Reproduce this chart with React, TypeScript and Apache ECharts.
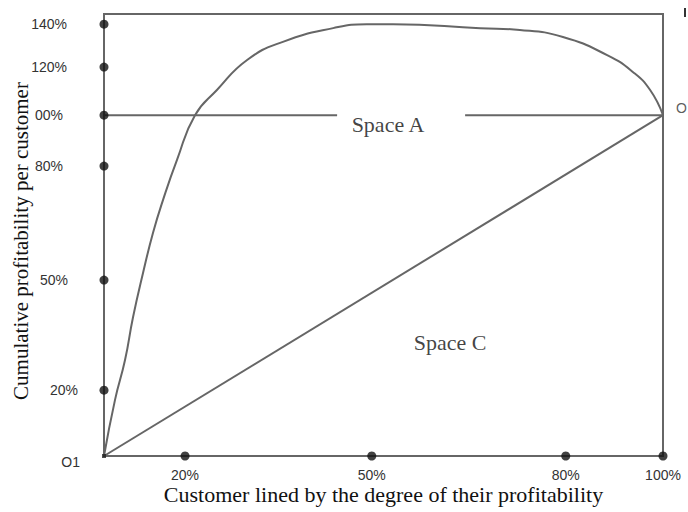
import React, { useEffect, useRef } from "react";
import * as echarts from "echarts";

// Positions are expressed on the drawn axes (0–100 of the axis length),
// since the original figure's tick spacing is not linear.
const xTickPos = [14.5, 47.9, 82.6, 100];
const xTickLabels = ["20%", "50%", "80%", "100%"];
const yTickPos = [0, 14.9, 39.8, 65.6, 77.1, 88.0, 97.7];
const yTickLabels = ["O1", "20%", "50%", "80%", "00%", "120%", "140%"];

const xTitle = "Customer lined by the degree of their profitability";
const yTitle = "Cumulative profitability per customer";

// Cumulative profitability curve
const curveX = [0, 1.97, 3.76, 5.19, 6.98, 8.77, 10.55, 13.06, 16.28, 20.2, 25.6, 32.0, 41.0, 47.0, 51.7, 67.3, 74.4, 82.1, 90.0, 94.6, 97.7, 100];
const curveY = [0, 12.7, 21.7, 31.4, 41.4, 50.5, 57.9, 67.0, 77.1, 82.8, 89.6, 93.7, 96.8, 97.7, 97.7, 96.8, 96.4, 94.8, 90.7, 86.9, 82.8, 77.1];

// Diagonal (equal distribution) line
const diagX = [0, 100];
const diagY = [0, 77.1];

// 100% reference line, interrupted by the "Space A" label
const refLeftX = [0, 41.7];
const refRightX = [64.6, 100];
const refLevel = 77.1;

const areaNames = ["Space A", "Space C"];
const areaX = [50.8, 61.9];
const areaY = [74.9, 25.6];

const endLabel = "O";

// label styling (the original's y labels are not aligned evenly)
const yLabelPadRight = [0, 2, 12, 17, 17, 13, 13];
const yLabelPadTop = [12, 0, 0, 0, 0, 0, 0];

const GRAY = "#666";
const SERIF = "'Liberation Serif', 'Times New Roman', serif";
const SANS = "'Liberation Sans', Arial, sans-serif";

export default function App() {
  const ref = useRef<HTMLDivElement>(null);

  useEffect(() => {
    if (!ref.current) return;
    const chart = echarts.init(ref.current, undefined, { renderer: "svg" });

    const nearest = (arr: number[], v: number) => {
      let best = 0;
      arr.forEach((p, i) => {
        if (Math.abs(p - v) < Math.abs(arr[best] - v)) best = i;
      });
      return best;
    };

    const yRich: Record<string, any> = {};
    yTickLabels.forEach((_, i) => {
      yRich["l" + i] = {
        fontFamily: SANS,
        fontSize: 14,
        color: "#333",
        padding: [yLabelPadTop[i], yLabelPadRight[i], 0, 0],
      };
    });

    const lineStyle = { color: GRAY, width: 2 };

    chart.setOption({
      animation: false,
      backgroundColor: "#fff",
      grid: {
        left: 104,
        right: 25,
        top: 14,
        bottom: 56,
        outerBoundsMode: "none",
        containLabel: false,
        show: true,
        borderColor: GRAY,
        borderWidth: 2,
      },
      xAxis: {
        type: "value",
        min: 0,
        max: 100,
        name: xTitle,
        nameLocation: "middle",
        nameGap: 27,
        nameMoveOverlap: false,
        nameTextStyle: { fontFamily: SERIF, fontSize: 22, color: "#111" },
        axisLine: { show: true, lineStyle },
        axisTick: { show: false },
        splitLine: { show: false },
        axisLabel: {
          customValues: xTickPos,
          formatter: (v: number) => xTickLabels[nearest(xTickPos, v)],
          margin: 12,
          fontFamily: SANS,
          fontSize: 14,
          color: "#333",
        },
      },
      yAxis: {
        type: "value",
        min: 0,
        max: 100,
        axisLine: { show: true, lineStyle },
        axisTick: { show: false },
        splitLine: { show: false },
        axisLabel: {
          customValues: yTickPos,
          formatter: (v: number) => {
            const i = nearest(yTickPos, v);
            return `{l${i}|${yTickLabels[i]}}`;
          },
          margin: 24,
          rich: yRich,
        },
      },
      series: [
        {
          type: "line",
          data: curveX.map((x, i) => [x, curveY[i]]),
          smooth: 0.5,
          symbol: "none",
          lineStyle,
          z: 3,
        },
        {
          type: "line",
          data: diagX.map((x, i) => [x, diagY[i]]),
          symbol: "none",
          lineStyle,
        },
        {
          type: "line",
          data: refLeftX.map((x) => [x, refLevel]),
          symbol: "none",
          lineStyle,
        },
        {
          type: "line",
          data: refRightX.map((x) => [x, refLevel]),
          symbol: "none",
          lineStyle,
        },
        {
          type: "scatter",
          data: yTickPos.filter((p) => p > 0).map((p) => [0, p]),
          symbol: "circle",
          symbolSize: 9,
          itemStyle: { color: "#111" },
          clip: false,
          z: 5,
        },
        {
          type: "scatter",
          data: xTickPos.map((p) => [p, 0]),
          symbol: "circle",
          symbolSize: 9,
          itemStyle: { color: "#111" },
          clip: false,
          z: 5,
        },
        {
          type: "scatter",
          data: [[0, 0]],
          symbol: "rect",
          symbolSize: 4,
          itemStyle: { color: "#222" },
          clip: false,
          z: 5,
        },
        {
          type: "scatter",
          data: areaNames.map((n, i) => ({ name: n, value: [areaX[i], areaY[i]] })),
          symbolSize: 0,
          label: {
            show: true,
            position: "inside",
            formatter: "{b}",
            fontFamily: SERIF,
            fontSize: 22,
            color: "#111",
          },
          z: 6,
        },
        {
          type: "scatter",
          data: [{ name: endLabel, value: [diagX[1], diagY[1]] }],
          symbolSize: 0,
          clip: false,
          label: {
            show: true,
            position: "right",
            distance: 13,
            offset: [0, -7],
            formatter: "{b}",
            fontFamily: SANS,
            fontSize: 14,
            color: "#333",
          },
        },
      ],
      graphic: [
        {
          type: "text",
          x: 21,
          y: 241,
          rotation: Math.PI / 2,
          style: {
            text: yTitle,
            fontFamily: SERIF,
            fontSize: 21,
            fill: "#111",
            align: "center",
            verticalAlign: "middle",
          },
        },
        {
          type: "rect",
          shape: { x: 684, y: 8, width: 2, height: 9 },
          style: { fill: "#333" },
        },
      ],
    });

    return () => chart.dispose();
  }, []);

  return (
    <div
      ref={ref}
      style={{ position: "fixed", left: 0, top: 0, width: 688, height: 512, background: "#fff" }}
    />
  );
}
